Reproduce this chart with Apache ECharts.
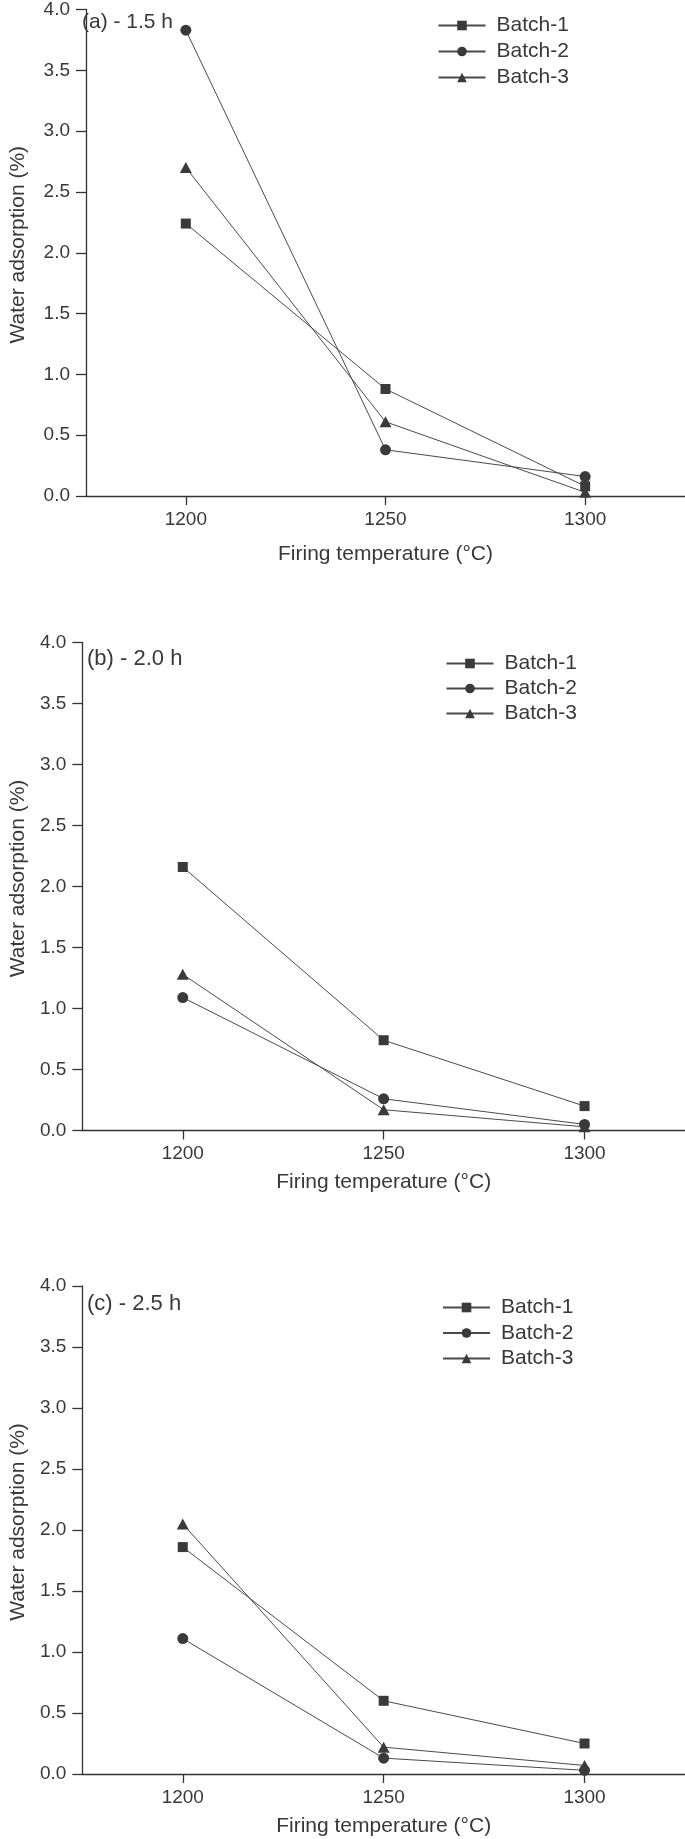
<!DOCTYPE html>
<html>
<head>
<meta charset="utf-8">
<script src="https://cdn.jsdelivr.net/npm/echarts@6/dist/echarts.min.js"></script>
<style>
html,body{margin:0;padding:0;background:#fff;}
#chart{width:685px;height:1839px;}
</style>
</head>
<body>
<div id="chart"></div>
<script>
// ---- data ----
const temperatures = [1200, 1250, 1300];
const tickValues = [1200, 1250, 1300];
const seriesNames = ['Batch-1', 'Batch-2', 'Batch-3'];
const panelLabels = ['(a) - 1.5 h', '(b) - 2.0 h', '(c) - 2.5 h'];
// panel (a) 1.5 h
const a_batch1 = [2.24, 0.88, 0.08];
const a_batch2 = [3.83, 0.38, 0.16];
const a_batch3 = [2.70, 0.61, 0.03];
// panel (b) 2.0 h
const b_batch1 = [2.16, 0.74, 0.20];
const b_batch2 = [1.09, 0.26, 0.05];
const b_batch3 = [1.28, 0.17, 0.03];
// panel (c) 2.5 h
const c_batch1 = [1.86, 0.60, 0.25];
const c_batch2 = [1.11, 0.13, 0.03];
const c_batch3 = [2.05, 0.22, 0.07];

const panels = [
  [a_batch1, a_batch2, a_batch3],
  [b_batch1, b_batch2, b_batch3],
  [c_batch1, c_batch2, c_batch3]
];

// ---- layout / style ----
const textColor = '#383838';
const axisColor = '#333';
const font = '"Liberation Sans", Arial, sans-serif';
const gridTops = [8, 642.5, 1286];
const gridHeight = 488;
const symbols = ['rect', 'circle', 'triangle'];
const symbolSizes = [10, 11, [12, 11]];
const legendPos = [
  {left: 437.5, top: 15, gap: 5},
  {left: 445.5, top: 653, gap: 4},
  {left: 442, top: 1297, gap: 4.5}
];
const labelPos = [
  {left: 82, top: 12, size: 21},
  {left: 87, top: 647.5, size: 22},
  {left: 87, top: 1292.5, size: 22}
];
const xNameGaps = [48, 41, 42];
const yNameGaps = [57, 52, 52];

const grids = [], xAxes = [], yAxes = [], series = [], legends = [], titles = [];
panels.forEach((panel, p) => {
  grids.push({left: 78, right: 0, top: gridTops[p], height: gridHeight, containLabel: false});
  xAxes.push({
    type: 'value', gridIndex: p, min: 1175, max: 1325,
    name: 'Firing temperature (°C)', nameLocation: 'middle', nameGap: xNameGaps[p],
    nameTextStyle: {color: textColor, fontSize: 21, fontFamily: font},
    axisLine: {show: true, onZero: false, lineStyle: {color: axisColor, width: 1.3}},
    axisTick: {show: true, length: 9, customValues: tickValues, lineStyle: {color: axisColor, width: 1.3}},
    axisLabel: {customValues: tickValues, color: textColor, fontSize: 19, fontFamily: font, margin: 14,
      formatter: v => String(v)},
    splitLine: {show: false}
  });
  yAxes.push({
    type: 'value', gridIndex: p, min: 0, max: 4, interval: 0.5,
    name: 'Water adsorption (%)', nameLocation: 'middle', nameGap: yNameGaps[p],
    nameTextStyle: {color: textColor, fontSize: 21, fontFamily: font, padding: [0, 0, 0, 16]},
    axisLine: {show: true, lineStyle: {color: axisColor, width: 1.3}},
    axisTick: {show: true, length: 10, lineStyle: {color: axisColor, width: 1.3}},
    axisLabel: {color: textColor, fontSize: 19, fontFamily: font, margin: 16,
      formatter: v => v.toFixed(1)},
    splitLine: {show: false}
  });
  panel.forEach((vals, s) => {
    series.push({
      name: seriesNames[s], type: 'line', xAxisIndex: p, yAxisIndex: p,
      data: temperatures.map((t, i) => [t, vals[i]]),
      symbol: symbols[s], symbolSize: symbolSizes[s],
      itemStyle: {color: '#3a3a3a'},
      lineStyle: {color: '#4a4a4a', width: 1},
      emphasis: {disabled: true}
    });
  });
  legends.push({
    orient: 'vertical', left: legendPos[p].left, top: legendPos[p].top, padding: 0,
    data: seriesNames.map(n => ({name: n})),
    itemWidth: 47, itemHeight: 12, itemGap: legendPos[p].gap,
    textStyle: {color: textColor, fontSize: 21, fontFamily: font, lineHeight: 21, padding: [0, 0, 0, 6]},
    selectedMode: false
  });
  titles.push({
    text: panelLabels[p], left: labelPos[p].left, top: labelPos[p].top, padding: 0,
    textStyle: {color: textColor, fontSize: labelPos[p].size, fontFamily: font, fontWeight: 'normal'}
  });
});

const chart = echarts.init(document.getElementById('chart'), null, {renderer: 'canvas'});
chart.setOption({
  animation: false,
  backgroundColor: '#fff',
  title: titles,
  grid: grids,
  xAxis: xAxes,
  yAxis: yAxes,
  legend: legends,
  series: series
});
</script>
</body>
</html>
